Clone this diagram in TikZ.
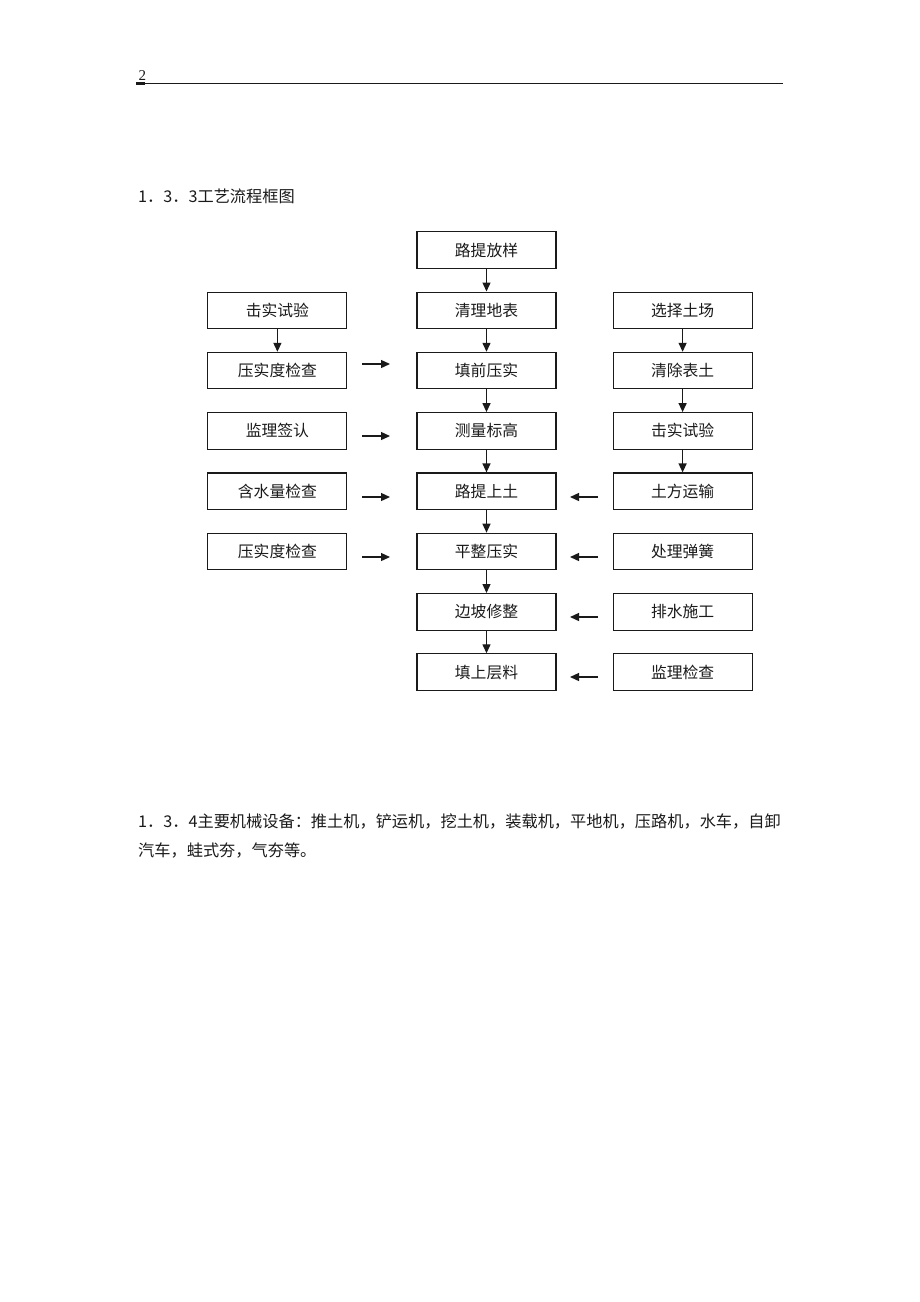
\documentclass[tikz,border=0pt]{standalone}
\usepackage{fontspec}
\usepackage{tikz}
\usetikzlibrary{positioning,arrows.meta}
\newfontfamily\cjk{Noto Sans CJK SC}
\newfontfamily\numfont{Liberation Serif}
\definecolor{ink}{HTML}{1A1A1A}
\tikzset{
  stepbox/.style = {shape=rectangle, draw=ink, line width=1.1pt,
                    minimum width=139pt, minimum height=36.5pt,
                    inner sep=0pt, text=ink,
                    font=\fontsize{15.8}{18}\cjk},
  flow/.style    = {-{Triangle[length=9pt,width=8pt]}, line width=1.3pt, draw=ink},
  line/.style    = {text=ink, inner sep=0pt, anchor=base west,
                    font=\fontsize{16.2}{20}\cjk}
}
\begin{document}
\begin{tikzpicture}
 [x=1pt, y=-1pt, node distance=22.7pt]

  \useasboundingbox (0,0) rectangle (920,1302);

  % page header
  \node [text=ink, inner sep=0pt, anchor=base west,
         font=\fontsize{15}{17}\numfont] (page) at (138.5,80.5) {2};
  \coordinate (hl) at (136,83.5);
  \coordinate (hr) at (783,83.5);
  \draw [ink, line width=1.8pt] (hl) -- (hr);
  \draw [ink, line width=2.8pt] (hl) -- ++(9,0);

  \node [line] (title) at (138,202) {1．3．3工艺流程框图};

  % middle column
  \node [stepbox] (c0) at (486.5,250) {路提放样};
  \node [stepbox, below=of c0] (c1) {清理地表};
  \node [stepbox, below=of c1] (c2) {填前压实};
  \node [stepbox, below=of c2] (c3) {测量标高};
  \node [stepbox, below=of c3] (c4) {路提上土};
  \node [stepbox, below=of c4] (c5) {平整压实};
  \node [stepbox, below=of c5] (c6) {边坡修整};
  \node [stepbox, below=of c6] (c7) {填上层料};

  % left column
  \node [stepbox, left=69pt of c1] (l1) {击实试验};
  \node [stepbox, left=69pt of c2] (l2) {压实度检查};
  \node [stepbox, left=69pt of c3] (l3) {监理签认};
  \node [stepbox, left=69pt of c4] (l4) {含水量检查};
  \node [stepbox, left=69pt of c5] (l5) {压实度检查};

  % right column
  \node [stepbox, right=56pt of c1] (r1) {选择土场};
  \node [stepbox, right=56pt of c2] (r2) {清除表土};
  \node [stepbox, right=56pt of c3] (r3) {击实试验};
  \node [stepbox, right=56pt of c4] (r4) {土方运输};
  \node [stepbox, right=56pt of c5] (r5) {处理弹簧};
  \node [stepbox, right=56pt of c6] (r6) {排水施工};
  \node [stepbox, right=56pt of c7] (r7) {监理检查};

  % vertical flow
  \draw [flow] (c0) -- (c1);
  \draw [flow] (c1) -- (c2);
  \draw [flow] (c2) -- (c3);
  \draw [flow] (c3) -- (c4);
  \draw [flow] (c4) -- (c5);
  \draw [flow] (c5) -- (c6);
  \draw [flow] (c6) -- (c7);
  \draw [flow] (l1) -- (l2);
  \draw [flow] (r1) -- (r2);
  \draw [flow] (r2) -- (r3);
  \draw [flow] (r3) -- (r4);

  % side arrows
  \coordinate (la2) at (362,364);  \coordinate (lb2) at (390,364);
  \coordinate (la3) at (362,436);  \coordinate (lb3) at (390,436);
  \coordinate (la4) at (362,497);  \coordinate (lb4) at (390,497);
  \coordinate (la5) at (362,557);  \coordinate (lb5) at (390,557);
  \draw [flow] (la2) -- (lb2);
  \draw [flow] (la3) -- (lb3);
  \draw [flow] (la4) -- (lb4);
  \draw [flow] (la5) -- (lb5);

  \coordinate (ra4) at (598,497);  \coordinate (rb4) at (570,497);
  \coordinate (ra5) at (598,557);  \coordinate (rb5) at (570,557);
  \coordinate (ra6) at (598,617);  \coordinate (rb6) at (570,617);
  \coordinate (ra7) at (598,677);  \coordinate (rb7) at (570,677);
  \draw [flow] (ra4) -- (rb4);
  \draw [flow] (ra5) -- (rb5);
  \draw [flow] (ra6) -- (rb6);
  \draw [flow] (ra7) -- (rb7);

  % equipment text
  \node [line] (eq1) at (138,827)
    {1．3．4主要机械设备：推土机，铲运机，挖土机，装载机，平地机，压路机，水车，自卸};
  \node [line] (eq2) at (138,856) {汽车，蛙式夯，气夯等。};
\end{tikzpicture}
\end{document}
